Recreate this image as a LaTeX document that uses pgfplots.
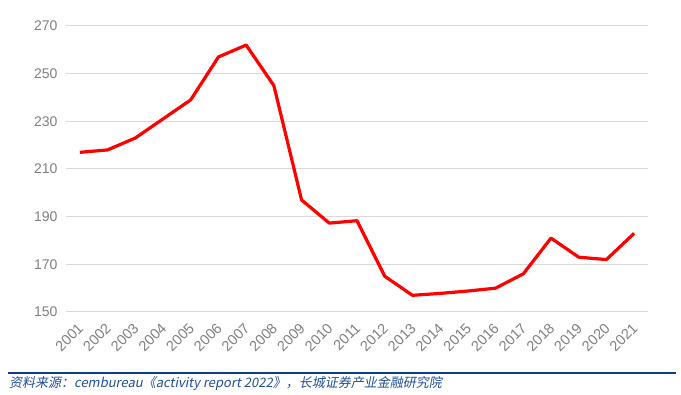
\documentclass[border=0pt]{standalone}
\usepackage{pgfplots}
\pgfplotsset{compat=1.18}
\usepackage{fontspec}
\setmainfont{Liberation Sans}
\newfontfamily\cjk{Noto Sans CJK SC}[FakeSlant=0.2]
\definecolor{gridgray}{HTML}{D9D9D9}
\definecolor{ticktxt}{HTML}{7F7F7F}
\definecolor{srcblue}{HTML}{1F4E9F}
\definecolor{rulblue}{HTML}{0B3D91}
\begin{document}
\begin{tikzpicture}[x=1pt,y=1pt]
\useasboundingbox (0,0) rectangle (681,395);
\begin{axis}[
  at={(66pt,83pt)}, anchor=south west,
  scale only axis, width=582pt, height=286pt,
  xmin=-0.5, xmax=20.5, ymin=150, ymax=270,
  ytick={150,170,...,270},
  xtick={0,...,20},
  xticklabels={2001,2002,2003,2004,2005,2006,2007,2008,2009,2010,2011,2012,2013,2014,2015,2016,2017,2018,2019,2020,2021},
  x tick label style={rotate=45, anchor=north east, font=\fontsize{14.5}{14.5}\selectfont, text=ticktxt, inner sep=2pt, xshift=-7pt, yshift=-3pt},
  y tick label style={font=\fontsize{14}{14}\selectfont, text=ticktxt, xshift=-5pt},
  /pgf/number format/assume math mode=true,
  /pgf/number format/1000 sep={},
  axis line style={draw=none},
  major tick length=0pt,
  ymajorgrids, grid style={gridgray, line width=1pt},
  clip=false,
]
\addplot[color=red, line width=3.2pt, line join=round] coordinates {
(0,217) (1,218) (2,223) (3,231) (4,239) (5,257) (6,262) (7,245) (8,197) (9,187.3)
(10,188.3) (11,165) (12,157) (13,157.8) (14,158.8) (15,160) (16,166) (17,181) (18,173) (19,172) (20,183)
};
\end{axis}
\draw[rulblue, line width=2pt] (8,22) -- (676,22);
\node[anchor=west, text=srcblue, inner sep=0pt] at (9,11.5) {\cjk\fontsize{13}{13}\selectfont 资料来源：cembureau《activity report 2022》，长城证券产业金融研究院};
\end{tikzpicture}
\end{document}
